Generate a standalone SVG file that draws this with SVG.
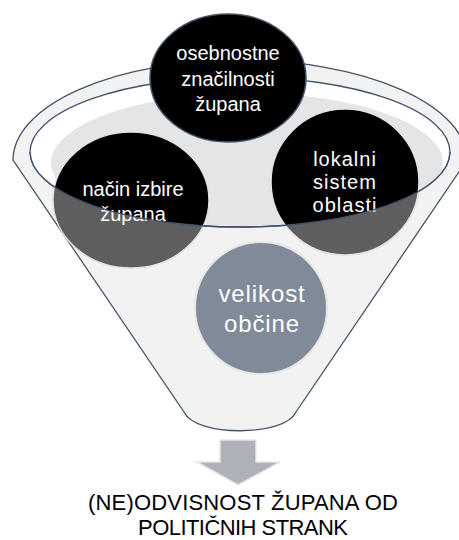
<svg xmlns="http://www.w3.org/2000/svg" width="459" height="540" viewBox="0 0 459 540">
  <style>
    .outline { fill: none; stroke: #44546a; stroke-width: 1.3; }
    .ctext { font-family: "Liberation Sans", Arial, sans-serif; fill: #ffffff; text-anchor: middle; }
    .btext { font-family: "Liberation Sans", Arial, sans-serif; fill: #000000; text-anchor: middle; font-size: 22px; }
    .black { fill: #000000; }
    .shade { fill: #5e5e5e; }
  </style>
  <defs>
    <clipPath id="front">
      <path d="M 30,152 A 210 75 0 0 0 450,152 L 459,152 L 459,540 L 0,540 L 0,152 Z"/>
    </clipPath>
    <clipPath id="inner">
      <ellipse cx="240" cy="152" rx="209" ry="74"/>
    </clipPath>
  </defs>
  <rect width="459" height="540" fill="#ffffff"/>

  <g id="funnel">
    <path d="M 13,160 A 227 100 0 0 1 467,160 L 296,412 C 285,437 195,437 184,412 Z" fill="#f2f2f2" stroke="#44546a" stroke-width="1.3"/>
    <ellipse cx="240" cy="152" rx="210" ry="75" fill="#ffffff" stroke="#44546a" stroke-width="1.3"/>
    <ellipse cx="247" cy="163" rx="196" ry="70" fill="#e4e5e7" clip-path="url(#inner)"/>
  </g>

  <g id="node-osebnostne">
    <ellipse cx="228" cy="78" rx="78" ry="64" class="black" stroke="#44546a" stroke-width="1.5"/>
    <text class="ctext" font-size="20" x="228" y="60">osebnostne</text>
    <text class="ctext" font-size="20" x="228" y="86">značilnosti</text>
    <text class="ctext" font-size="20" x="228" y="111">župana</text>
  </g>

  <g id="node-nacin">
    <ellipse cx="131" cy="200" rx="78" ry="68" class="black" stroke="#e2e2e2" stroke-width="1.5"/>
    <ellipse cx="131" cy="200" rx="78" ry="68" class="shade" stroke="#e2e2e2" stroke-width="1.5" clip-path="url(#front)"/>
    <text class="ctext" font-size="20" x="133" y="196">način izbire</text>
    <text class="ctext" font-size="20" x="133" y="221">župana</text>
  </g>

  <g id="node-lokalni">
    <ellipse cx="345" cy="182" rx="74" ry="73" class="black" stroke="#e2e2e2" stroke-width="1.5"/>
    <ellipse cx="345" cy="182" rx="74" ry="73" class="shade" stroke="#e2e2e2" stroke-width="1.5" clip-path="url(#front)"/>
    <text class="ctext" font-size="20" letter-spacing="1" x="345" y="166">lokalni</text>
    <text class="ctext" font-size="20" letter-spacing="1" x="345" y="189">sistem</text>
    <text class="ctext" font-size="20" letter-spacing="1" x="345" y="212">oblasti</text>
  </g>

  <g id="node-velikost">
    <circle cx="261" cy="308" r="66" fill="#808a98" stroke="#e6e6e6" stroke-width="2"/>
    <text class="ctext" font-size="24" letter-spacing="0.9" x="262" y="302" fill="#f4f4f4">velikost</text>
    <text class="ctext" font-size="24" letter-spacing="0.9" x="262" y="332" fill="#f4f4f4">občine</text>
  </g>

  <g id="funnel-front">
    <path d="M 30,152 A 210 75 0 0 0 450,152" class="outline"/>
  </g>

  <g id="connectors">
    <path d="M 220,440 L 256,440 L 256,462 L 280,462 L 238,485 L 197,462 L 220,462 Z" fill="#aeb1b8" stroke="#e6e6e6" stroke-width="1.5"/>
  </g>

  <g id="node-result">
    <text class="btext" x="243" y="510" textLength="310" lengthAdjust="spacing">(NE)ODVISNOST ŽUPANA OD</text>
    <text class="btext" x="243" y="535" textLength="210" lengthAdjust="spacing">POLITIČNIH STRANK</text>
  </g>
</svg>
